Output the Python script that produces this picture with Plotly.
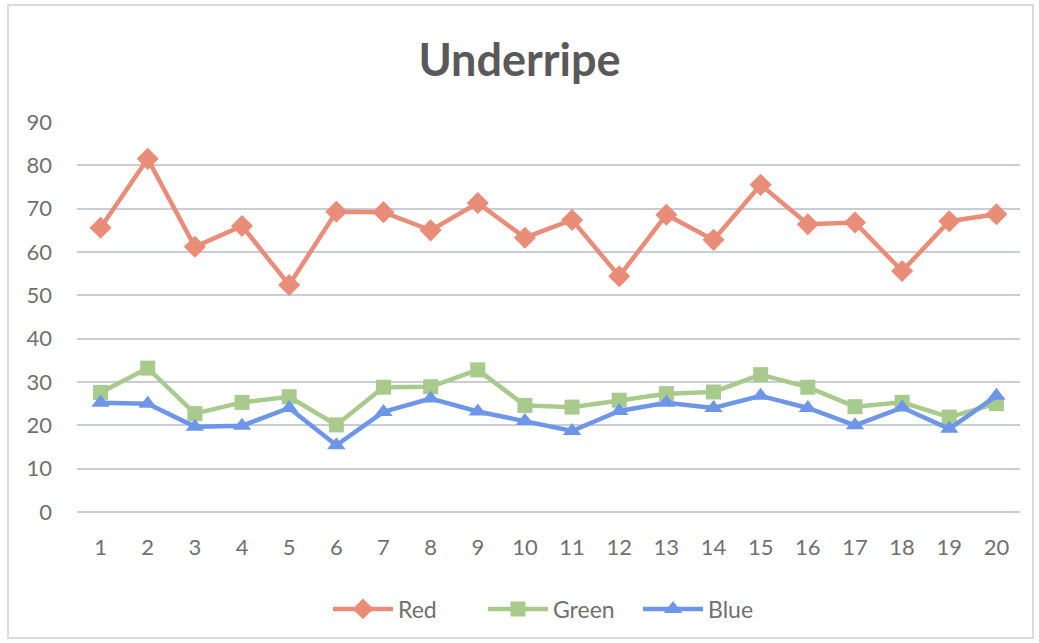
import plotly.graph_objects as go

samples = [str(i) for i in range(1, 21)]
red = [65.6, 81.5, 61.2, 66.0, 52.4, 69.3, 69.2, 65.0, 71.3, 63.3, 67.4, 54.4, 68.6, 62.8, 75.5, 66.4, 66.8, 55.6, 67.1, 68.7]
green = [27.6, 33.2, 22.7, 25.3, 26.6, 20.1, 28.8, 28.9, 32.8, 24.6, 24.2, 25.8, 27.3, 27.7, 31.7, 28.8, 24.3, 25.3, 21.9, 25.0]
blue = [25.2, 25.0, 19.7, 19.9, 24.0, 15.4, 23.1, 26.2, 23.2, 21.0, 18.7, 23.3, 25.2, 24.0, 26.8, 24.0, 20.0, 24.1, 19.2, 26.8]
y_ticks = list(range(0, 91, 10))

series = [
    ("Red", red, "#E98C78", "diamond", 17),
    ("Green", green, "#A8CA8C", "square", 15),
    ("Blue", blue, "#6E96E8", "triangle-up", 16),
]

fig = go.Figure()
for name, vals, col, sym, sz in series:
    fig.add_trace(go.Scatter(
        x=samples, y=vals, name=name, mode="lines+markers",
        line=dict(color=col, width=4.5),
        marker=dict(symbol=sym, size=sz, color=col),
    ))

W, H = 1039, 643
L, R, T, B = 77, 19, 122, 131
pw, ph = W - L - R, H - T - B

def px(x):
    return (x - L) / pw

def py(y):
    return (H - B - y) / ph

tick_col = "#707070"
fig.update_layout(
    width=W, height=H,
    margin=dict(l=L, r=R, t=T, b=B),
    paper_bgcolor="white", plot_bgcolor="white",
    font=dict(family="Lato, 'Open Sans', sans-serif", color=tick_col, size=22),
    title=dict(text="<b>Underripe</b>", x=0.5, xanchor="center", y=1 - 60 / H, yanchor="middle",
               font=dict(size=45, color="#595959")),
    xaxis=dict(type="category", range=[-0.5, 19.5], showgrid=False, showline=False, zeroline=False,
               ticks="", ticklabelstandoff=20, tickfont=dict(size=22, color=tick_col)),
    yaxis=dict(range=[0, 90], tickvals=y_ticks, showgrid=True, gridcolor="#C9CDD9", gridwidth=1.5,
               zeroline=True, zerolinecolor="#C9CDD9", zerolinewidth=1.5, showline=False, ticks="",
               ticklabelstandoff=24, tickfont=dict(size=22, color=tick_col)),
    legend=dict(orientation="h", x=px(328), xanchor="left", y=py(609), yanchor="middle",
                font=dict(size=23, color=tick_col), itemwidth=60, tracegroupgap=0,
                entrywidth=80, entrywidthmode="pixels"),
    showlegend=True,
    shapes=[dict(type="rect", xref="paper", yref="paper",
                 x0=px(8), x1=px(1033), y0=py(638), y1=py(5),
                 line=dict(color="#D0D0D0", width=1.5), fillcolor="rgba(0,0,0,0)", layer="below")],
)

fig.write_html("out.html")
